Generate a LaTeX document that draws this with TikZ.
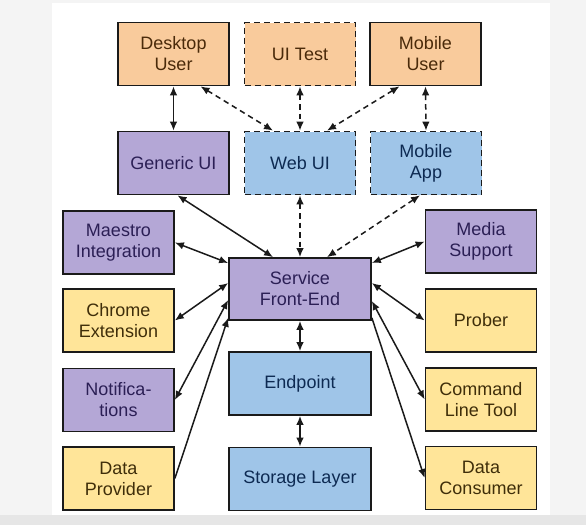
\documentclass[tikz,border=0pt]{standalone}
\usepackage{fontspec}
\setmainfont{Liberation Sans}
\usetikzlibrary{arrows.meta,calc}
\definecolor{orangefill}{HTML}{F9CB9C}
\definecolor{purplefill}{HTML}{B4A7D6}
\definecolor{bluefill}{HTML}{9FC5E8}
\definecolor{yellowfill}{HTML}{FFE599}
\definecolor{orangetext}{HTML}{4A2A0A}
\definecolor{yellowtext}{HTML}{3F2E0A}
\definecolor{purpletext}{HTML}{2B1F55}
\definecolor{bluetext}{HTML}{0D2A52}
\definecolor{edgecol}{HTML}{1A1A1A}
\definecolor{sidegray}{HTML}{F4F4F4}
\definecolor{bandgray}{HTML}{E6E6E6}
\tikzset{
  box/.style={draw=edgecol, line width=1.7pt, minimum width=111pt, minimum height=63pt,
    inner sep=0pt, align=center, font=\fontsize{18}{21}\selectfont},
  widebox/.style={box, minimum width=142pt},
  dashbox/.style={dash pattern=on 6pt off 4pt},
  orangebox/.style={box, fill=orangefill, text=orangetext},
  purplebox/.style={box, fill=purplefill, text=purpletext},
  bluebox/.style={box, fill=bluefill, text=bluetext},
  yellowbox/.style={box, fill=yellowfill, text=yellowtext},
  conn/.style={draw=edgecol, line width=1.5pt, {Latex[length=9pt,width=7.5pt]}-{Latex[length=9pt,width=7.5pt]}},
  connto/.style={draw=edgecol, line width=1.5pt, -{Latex[length=9pt,width=7.5pt]}},
  dconn/.style={conn, dash pattern=on 5.5pt off 4pt}
}
\begin{document}
\begin{tikzpicture}[x=1pt,y=-1pt]
\useasboundingbox (0,0) rectangle (586,525);
\fill[sidegray] (0,0) rectangle (586,525);
\fill[white] (52,3) rectangle (550,515);
\fill[bandgray] (0,515) rectangle (586,525);

% top row
\node[orangebox] (desk) at (173.5,54) {Desktop\\User};
\node[orangebox, dashbox] (uitest) at (300,54) {UI Test};
\node[orangebox] (mobuser) at (425.5,54) {Mobile\\User};
% second row
\node[purplebox] (generic) at (173.5,163) {Generic UI};
\node[bluebox, dashbox] (webui) at (300,163) {Web UI};
\node[bluebox, dashbox] (mobapp) at (426,163) {Mobile\\App};
% left column
\node[purplebox] (maestro) at (118.5,242.5) {Maestro\\Integration};
\node[yellowbox] (chrome) at (118.5,320.5) {Chrome\\Extension};
\node[purplebox] (notif) at (118.5,400) {Notifica-\\tions};
\node[yellowbox] (dprov) at (118.5,478.5) {Data\\Provider};
% center column
\node[purplebox, widebox, minimum height=62pt] (svc) at (300,289) {Service\\Front-End};
\node[bluebox, widebox] (endp) at (300,383.5) {Endpoint};
\node[bluebox, widebox] (store) at (300,479) {Storage Layer};
% right column
\node[purplebox] (media) at (481,241.5) {Media\\Support};
\node[yellowbox] (prober) at (481,320.5) {Prober};
\node[yellowbox] (clt) at (481,399.5) {Command\\Line Tool};
\node[yellowbox] (dcons) at (481,478) {Data\\Consumer};

% top connectors
\draw[conn] (desk.south) -- (generic.north);
\draw[dconn] ([xshift=27pt]desk.south) -- ([xshift=-27pt]webui.north);
\draw[dconn] (uitest.south) -- (webui.north);
\draw[dconn] ([xshift=-26pt]mobuser.south) -- ([xshift=27pt]webui.north);
\draw[dconn] (mobuser.south) -- (mobapp.north);
% to service
\draw[conn] ([xshift=4pt]generic.south) -- ([xshift=-27pt]svc.north);
\draw[dconn] (webui.south) -- (svc.north);
\draw[dconn] ([xshift=-6pt]mobapp.south) -- ([xshift=27pt]svc.north);
% left
\draw[conn] (maestro.east) -- ([yshift=26pt]svc.west);
\draw[conn] (chrome.east) -- ([yshift=6pt]svc.west);
\draw[conn] (notif.east) -- ([yshift=-11pt]svc.west);
\draw[connto] (dprov.east) -- ([yshift=3pt]svc.south west);
% right
\draw[conn] ([yshift=26pt]svc.east) -- (media.west);
\draw[conn] ([yshift=6pt]svc.east) -- (prober.west);
\draw[conn] ([yshift=-12pt]svc.east) -- (clt.west);
\draw[connto] ([yshift=3pt]svc.south east) -- (dcons.west);
% center
\draw[conn] (svc.south) -- (endp.north);
\draw[conn] (endp.south) -- (store.north);
\end{tikzpicture}
\end{document}
